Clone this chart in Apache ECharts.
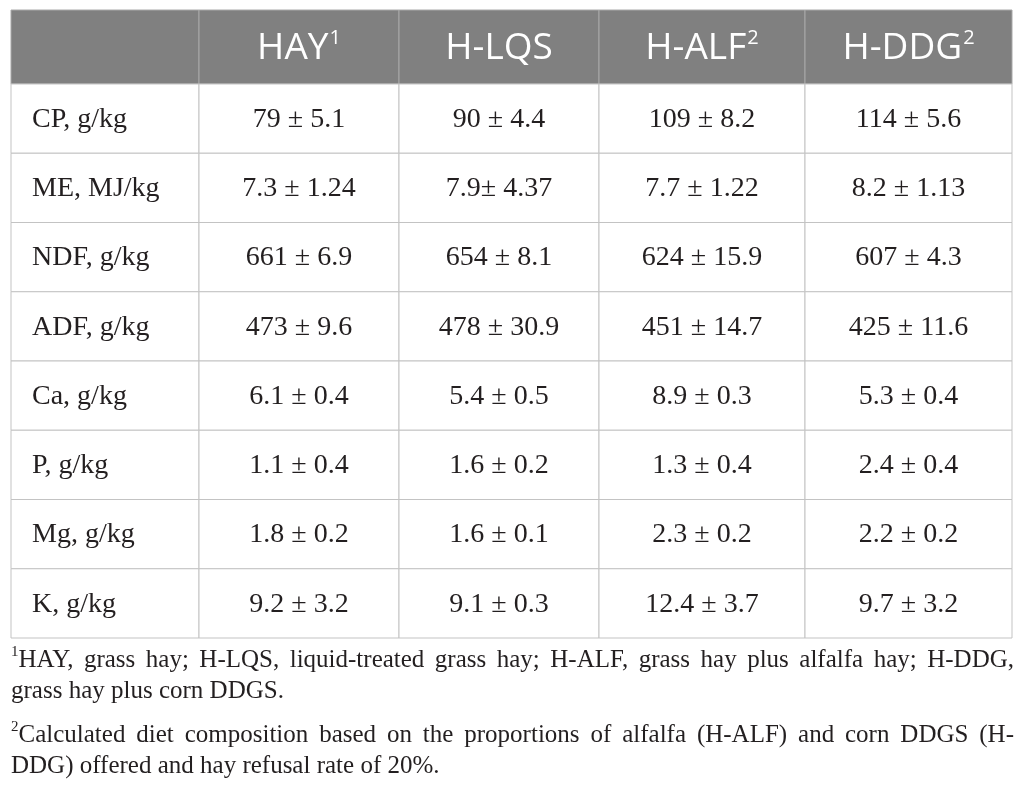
<!DOCTYPE html>
<html>
<head>
<meta charset="utf-8">
<script src="https://cdn.jsdelivr.net/npm/echarts@6/dist/echarts.min.js"></script>
<style>
  html, body { margin: 0; padding: 0; background: #fff; }
  #chart_block { width: 1026px; height: 797px; }
</style>
</head>
<body>
<div id="chart_block"></div>
<script>
var dietNames = ['HAY', 'H-LQS', 'H-ALF', 'H-DDG'];
var dietNotes = ['1', '', '2', '2'];
var nutrients = ['CP, g/kg', 'ME, MJ/kg', 'NDF, g/kg', 'ADF, g/kg', 'Ca, g/kg', 'P, g/kg', 'Mg, g/kg', 'K, g/kg'];

var hayMean = [79, 7.3, 661, 473, 6.1, 1.1, 1.8, 9.2];
var haySd   = [5.1, 1.24, 6.9, 9.6, 0.4, 0.4, 0.2, 3.2];
var lqsMean = [90, 7.9, 654, 478, 5.4, 1.6, 1.6, 9.1];
var lqsSd   = [4.4, 4.37, 8.1, 30.9, 0.5, 0.2, 0.1, 0.3];
var alfMean = [109, 7.7, 624, 451, 8.9, 1.3, 2.3, 12.4];
var alfSd   = [8.2, 1.22, 15.9, 14.7, 0.3, 0.4, 0.2, 3.7];
var ddgMean = [114, 8.2, 607, 425, 5.3, 2.4, 2.2, 9.7];
var ddgSd   = [5.6, 1.13, 4.3, 11.6, 0.4, 0.4, 0.2, 3.2];

// printed without the space before ± in the source ("7.9± 4.37")
var tightCells = ['1-1'];

var note1 = ['HAY, grass hay; H-LQS, liquid-treated grass hay; H-ALF, grass hay plus alfalfa hay; H-DDG,',
             'grass hay plus corn DDGS.'];
var note2 = ['Calculated diet composition based on the proportions of alfalfa (H-ALF) and corn DDGS (H-',
             'DDG) offered and hay refusal rate of 20%.'];

// layout (axis units = px inside the grid)
var colEdges = [0, 188, 388, 588, 794, 1001];
var rowEdges = [0];
for (var i = 0; i <= nutrients.length; i++) rowEdges.push(74 + i * 69.25);

var means = [hayMean, lqsMean, alfMean, ddgMean];
var sds = [haySd, lqsSd, alfSd, ddgSd];

var cells = [];
cells.push({ c: 0, r: 0, kind: 'head', text: '' });
dietNames.forEach(function (n, j) {
  var t = '{h|' + n + '}' + (dietNotes[j] ? '{s|' + dietNotes[j] + '}' : '');
  cells.push({ c: j + 1, r: 0, kind: 'head', text: t });
});
nutrients.forEach(function (n, i) {
  cells.push({ c: 0, r: i + 1, kind: 'label', text: n });
  for (var j = 0; j < 4; j++) {
    var sep = tightCells.indexOf(i + '-' + j) >= 0 ? '± ' : ' ± ';
    cells.push({ c: j + 1, r: i + 1, kind: 'val', text: means[j][i] + sep + sds[j][i] });
  }
});

// footnote lines are justified in the source, stretch the spaces
var measure = document.createElement('canvas').getContext('2d');
var FOOT_W = 1003;
function justify(line, sup) {
  measure.font = '25px "Liberation Serif"';
  var words = line.split(' ');
  var w = measure.measureText(words.join('')).width;
  measure.font = '15px "Liberation Serif"';
  var sw = sup ? measure.measureText(sup).width : 0;
  var gap = (FOOT_W - w - sw) / (words.length - 1);
  return { text: (sup ? '{s|' + sup + '}' : '') + words.join('{j| }'), gap: gap };
}

var chartDom = document.getElementById('chart_block');
var myChart = echarts.init(chartDom);

function renderCell(params, api) {
  var cell = cells[params.dataIndex];
  var p0 = api.coord([colEdges[cell.c], rowEdges[cell.r]]);
  var p1 = api.coord([colEdges[cell.c + 1], rowEdges[cell.r + 1]]);
  var head = cell.kind == 'head';
  var children = [{
    type: 'rect',
    shape: { x: p0[0], y: p0[1], width: p1[0] - p0[0], height: p1[1] - p0[1] },
    style: { fill: head ? '#808080' : '#fff', stroke: head ? '#a8a8a8' : '#c3c3c3', lineWidth: 1 }
  }];
  if (cell.text) {
    var tx = cell.kind == 'label' ? p0[0] + 21 : (p0[0] + p1[0]) / 2;
    children.push({
      type: 'text',
      style: {
        text: cell.text,
        x: tx,
        y: (p0[1] + p1[1]) / 2 + 1,
        align: cell.kind == 'label' ? 'left' : 'center',
        verticalAlign: 'middle',
        fill: head ? '#fff' : '#231f20',
        fontFamily: 'Liberation Serif',
        fontSize: 28,
        rich: {
          h: { fontFamily: 'Open Sans', fontSize: 37, color: '#fff', lineHeight: 40 },
          s: { fontFamily: 'Open Sans', fontSize: 20, color: '#fff', lineHeight: 24, verticalAlign: 'top', padding: [0, 0, 0, 1] }
        }
      }
    });
  }
  return { type: 'group', children: children };
}

function footTitle(lines, sup, top) {
  var first = justify(lines[0], sup);
  return {
    text: first.text + '\n' + lines[1],
    left: 11,
    top: top,
    padding: 0,
    textStyle: {
      fontFamily: 'Liberation Serif',
      fontSize: 25,
      fontWeight: 'normal',
      color: '#231f20',
      lineHeight: 31,
      rich: {
        s: { fontFamily: 'Liberation Serif', fontSize: 15, color: '#231f20', lineHeight: 24, verticalAlign: 'top' },
        j: { fontFamily: 'Liberation Serif', fontSize: 25, color: '#231f20', width: first.gap }
      }
    }
  };
}

var options = {
  animation: false,
  title: [
    footTitle(note1, '1', 645),
    footTitle(note2, '2', 720)
  ],
  grid: { left: 11, top: 10, width: 1001, height: 628 },
  xAxis: { type: 'value', min: 0, max: 1001, show: false },
  yAxis: { type: 'value', min: 0, max: 628, inverse: true, show: false },
  series: [{
    type: 'custom',
    renderItem: renderCell,
    data: cells.map(function (c) { return [colEdges[c.c], rowEdges[c.r]]; })
  }]
};

myChart.setOption(options, true);
</script>
</body>
</html>
